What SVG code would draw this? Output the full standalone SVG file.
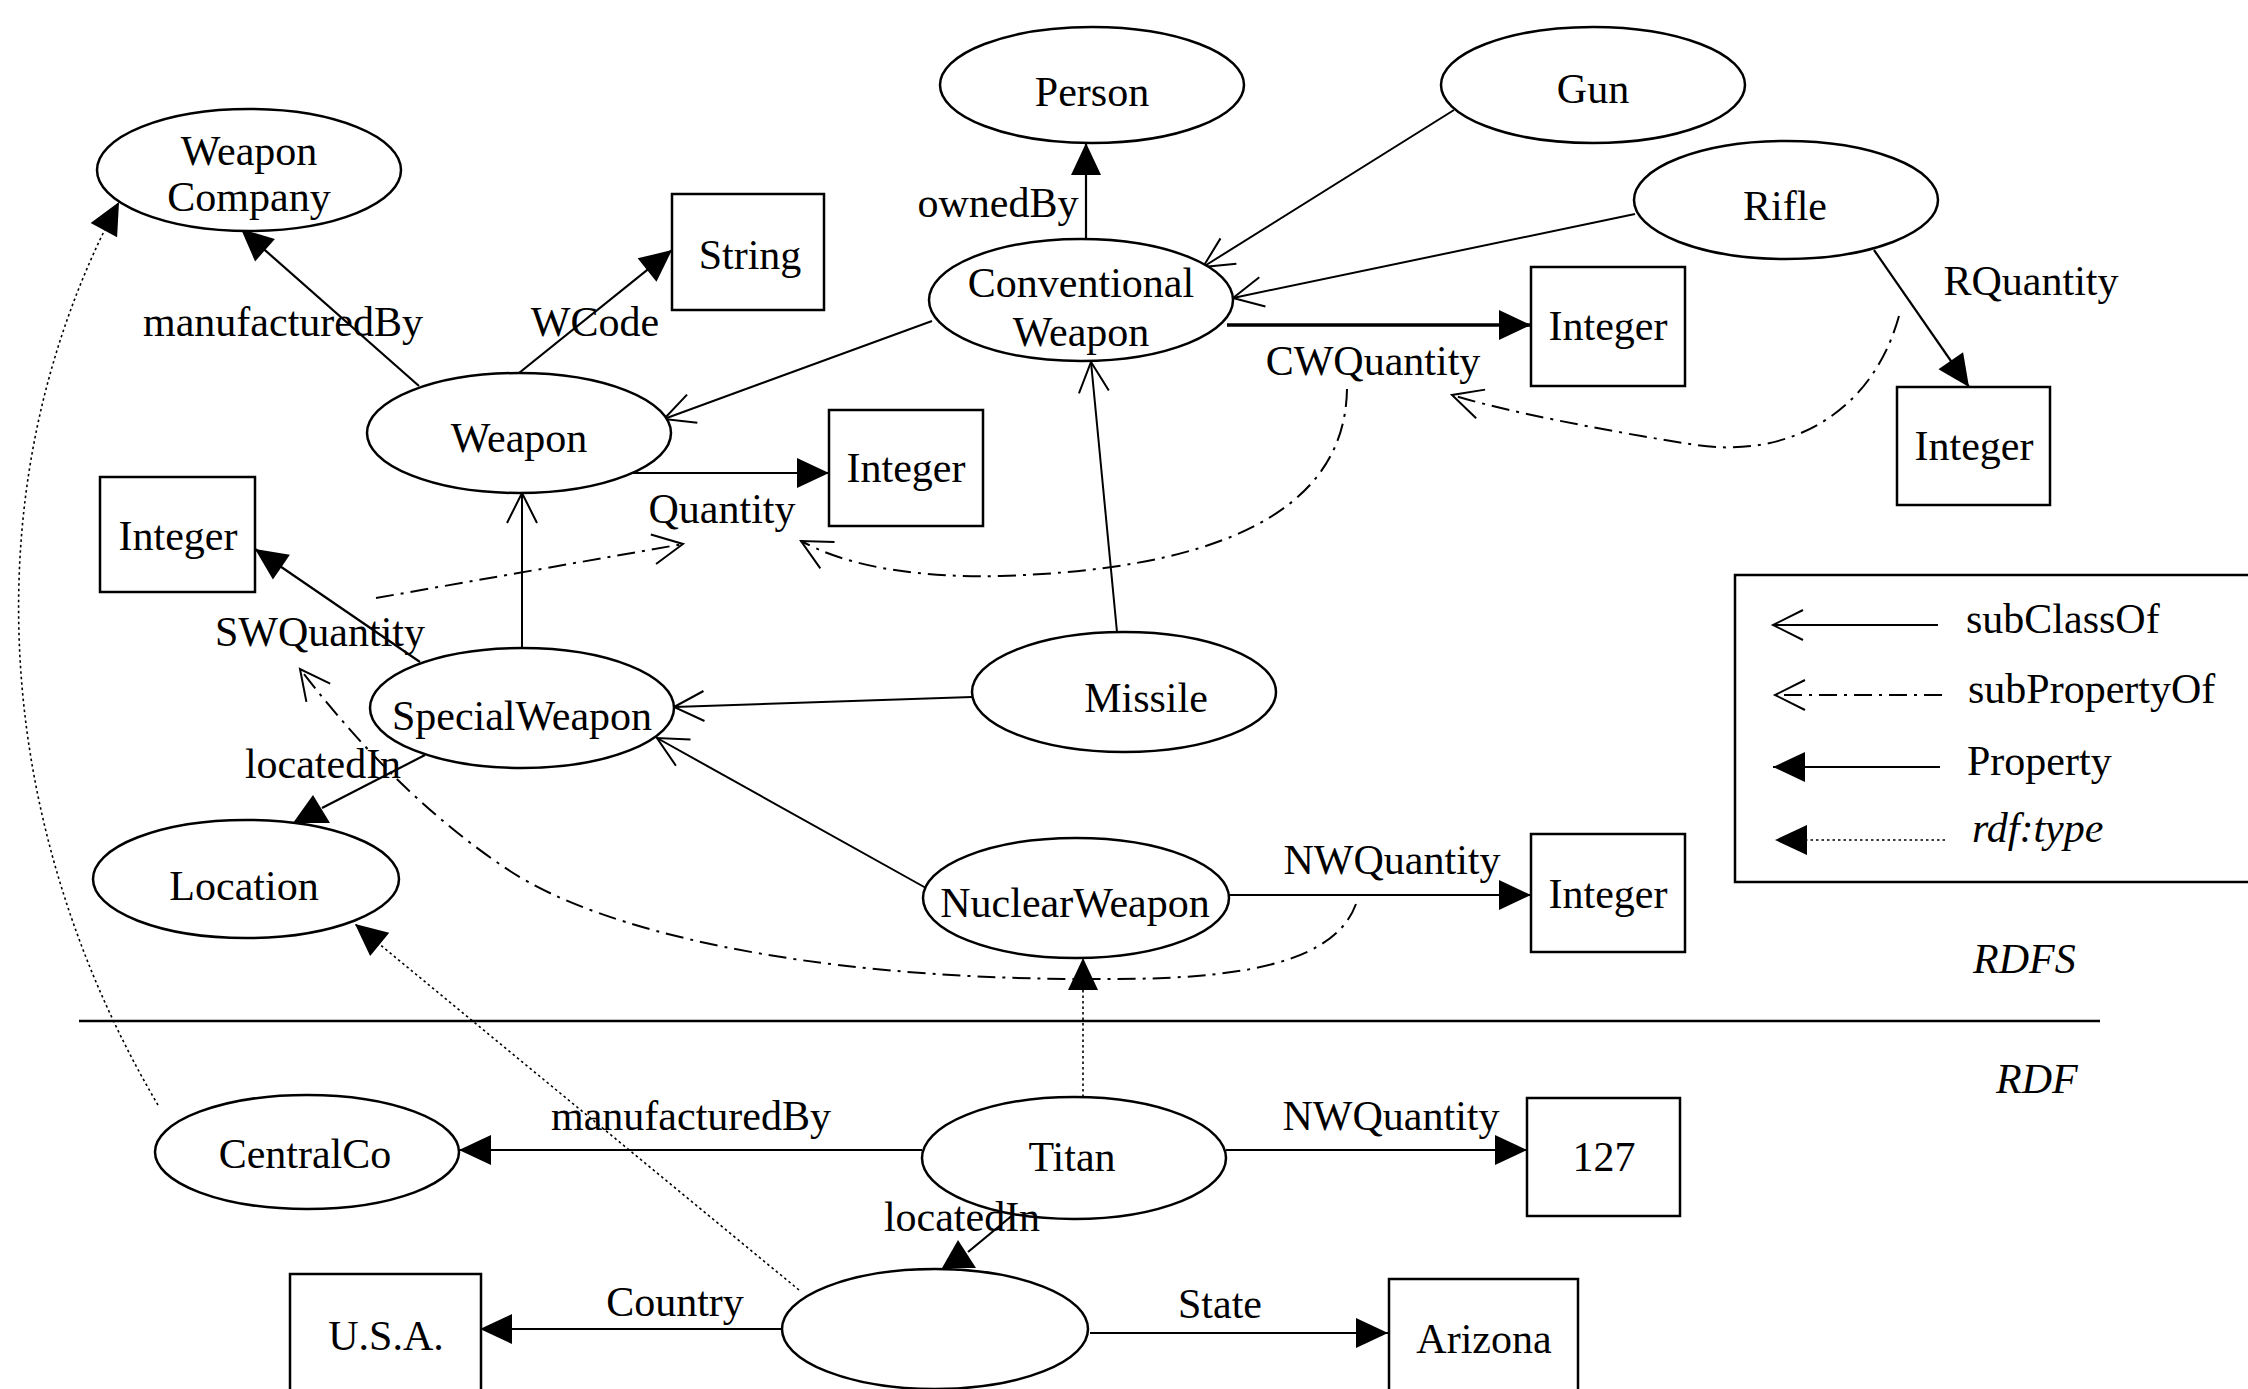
<svg xmlns="http://www.w3.org/2000/svg" width="2248" height="1389" viewBox="0 0 2248 1389">
<style>
text{font-family:"Liberation Serif","Times New Roman",serif;font-size:42px;fill:#000}
.c{text-anchor:middle}
.i{font-style:italic}
.n{fill:#fff;stroke:#000;stroke-width:2.5}
.p{fill:none;stroke:#000;stroke-width:2.2}
.pb{fill:none;stroke:#000;stroke-width:3.5}
.s{fill:none;stroke:#000;stroke-width:2}
.sp{fill:none;stroke:#000;stroke-width:2;stroke-dasharray:18,7,3,7}
.t{fill:none;stroke:#000;stroke-width:1.6;stroke-dasharray:2.5,3}
</style>
<defs>
<marker id="fa" markerUnits="userSpaceOnUse" markerWidth="34" markerHeight="32" viewBox="0 -16 34 32" refX="32" refY="0" orient="auto" overflow="visible">
<path d="M0,-15 L32,0 L0,15 Z" fill="#000"/>
</marker>
<marker id="oa" markerUnits="userSpaceOnUse" markerWidth="34" markerHeight="34" viewBox="0 -17 34 34" refX="32" refY="0" orient="auto" overflow="visible">
<path d="M2,-15 L32,0 L2,15" fill="none" stroke="#000" stroke-width="2"/>
</marker>
</defs>

<line x1="79" y1="1021" x2="2100" y2="1021" stroke="#000" stroke-width="2.5"/>

<g id="edges">
<line class="p" x1="419" y1="386" x2="241" y2="229" marker-end="url(#fa)"/>
<line class="p" x1="519" y1="373" x2="672" y2="250" marker-end="url(#fa)"/>
<line class="p" x1="631" y1="473" x2="829" y2="473" marker-end="url(#fa)"/>
<line class="p" x1="1086" y1="240" x2="1086" y2="143" marker-end="url(#fa)"/>
<line class="pb" x1="1227" y1="325" x2="1531" y2="325" marker-end="url(#fa)"/>
<line class="p" x1="1874" y1="250" x2="1969" y2="387" marker-end="url(#fa)"/>
<line class="p" x1="420" y1="662" x2="255" y2="549" marker-end="url(#fa)"/>
<line class="p" x1="1229" y1="895" x2="1531" y2="895" marker-end="url(#fa)"/>
<line class="p" x1="425" y1="755" x2="322" y2="808"/>
<polygon points="313,795 293,823 330,823" fill="#000"/>
<line class="p" x1="922" y1="1150" x2="459" y2="1150" marker-end="url(#fa)"/>
<line class="p" x1="1226" y1="1150" x2="1527" y2="1150" marker-end="url(#fa)"/>
<line class="p" x1="1014" y1="1214" x2="968" y2="1252"/>
<polygon points="958,1240 942,1268 976,1268" fill="#000"/>
<line class="p" x1="781" y1="1329" x2="480" y2="1329" marker-end="url(#fa)"/>
<line class="p" x1="1090" y1="1333" x2="1388" y2="1333" marker-end="url(#fa)"/>

<line class="s" x1="932" y1="321" x2="664" y2="419" marker-end="url(#oa)"/>
<line class="s" x1="522" y1="648" x2="522" y2="493" marker-end="url(#oa)"/>
<line class="s" x1="1454" y1="110" x2="1203" y2="267" marker-end="url(#oa)"/>
<line class="s" x1="1635" y1="214" x2="1233" y2="298" marker-end="url(#oa)"/>
<line class="s" x1="1117" y1="632" x2="1091" y2="362" marker-end="url(#oa)"/>
<line class="s" x1="972" y1="697" x2="674" y2="707" marker-end="url(#oa)"/>
<line class="s" x1="926" y1="888" x2="657" y2="738" marker-end="url(#oa)"/>

<line class="sp" x1="376" y1="598" x2="683" y2="544" marker-end="url(#oa)"/>
<path class="sp" d="M1347,389 C1345,520 1200,570 1000,576 C900,578 840,562 801,541" marker-end="url(#oa)"/>
<path class="sp" d="M1899,316 C1870,420 1780,460 1690,444 C1600,430 1500,410 1452,395" marker-end="url(#oa)"/>
<path class="sp" d="M1356,904 C1330,975 1200,980 1080,979 C800,978 600,930 510,871 C440,825 370,760 300,669" marker-end="url(#oa)"/>

<line class="t" x1="1083" y1="1097" x2="1083" y2="958" marker-end="url(#fa)"/>
<path class="t" d="M158,1105 C-10,820 -30,480 119,202" marker-end="url(#fa)"/>
<line class="t" x1="799" y1="1290" x2="355" y2="924" marker-end="url(#fa)"/>
</g>

<g id="n-weaponcompany"><ellipse class="n" cx="249" cy="170" rx="152" ry="61"/><text class="c" x="249" y="165">Weapon</text><text class="c" x="249" y="211">Company</text></g>
<g id="n-string"><rect class="n" x="672" y="194" width="152" height="116"/><text class="c" x="750" y="269">String</text></g>
<g id="n-person"><ellipse class="n" cx="1092" cy="85" rx="152" ry="58"/><text class="c" x="1092" y="106">Person</text></g>
<g id="n-gun"><ellipse class="n" cx="1593" cy="85" rx="152" ry="58"/><text class="c" x="1593" y="103">Gun</text></g>
<g id="n-rifle"><ellipse class="n" cx="1786" cy="200" rx="152" ry="59"/><text class="c" x="1785" y="220">Rifle</text></g>
<g id="n-conventionalweapon"><ellipse class="n" cx="1081" cy="300" rx="152" ry="61"/><text class="c" x="1081" y="297">Conventional</text><text class="c" x="1081" y="346">Weapon</text></g>
<g id="n-integer-cw"><rect class="n" x="1531" y="267" width="154" height="119"/><text class="c" x="1608" y="340">Integer</text></g>
<g id="n-integer-r"><rect class="n" x="1897" y="387" width="153" height="118"/><text class="c" x="1974" y="460">Integer</text></g>
<g id="n-weapon"><ellipse class="n" cx="519" cy="433" rx="152" ry="60"/><text class="c" x="519" y="452">Weapon</text></g>
<g id="n-integer-q"><rect class="n" x="829" y="410" width="154" height="116"/><text class="c" x="906" y="482">Integer</text></g>
<g id="n-integer-sw"><rect class="n" x="100" y="477" width="155" height="115"/><text class="c" x="178" y="550">Integer</text></g>
<g id="n-specialweapon"><ellipse class="n" cx="522" cy="708" rx="152" ry="60"/><text class="c" x="522" y="730">SpecialWeapon</text></g>
<g id="n-missile"><ellipse class="n" cx="1124" cy="692" rx="152" ry="60"/><text class="c" x="1146" y="712">Missile</text></g>
<g id="n-nuclearweapon"><ellipse class="n" cx="1076" cy="898" rx="153" ry="60"/><text class="c" x="1075" y="917">NuclearWeapon</text></g>
<g id="n-integer-nw"><rect class="n" x="1531" y="834" width="154" height="118"/><text class="c" x="1608" y="908">Integer</text></g>
<g id="n-location"><ellipse class="n" cx="246" cy="879" rx="153" ry="59"/><text class="c" x="244" y="900">Location</text></g>
<g id="n-centralco"><ellipse class="n" cx="307" cy="1152" rx="152" ry="57"/><text class="c" x="305" y="1168">CentralCo</text></g>
<g id="n-titan"><ellipse class="n" cx="1074" cy="1158" rx="152" ry="61"/><text class="c" x="1072" y="1171">Titan</text></g>
<g id="n-127"><rect class="n" x="1527" y="1098" width="153" height="118"/><text class="c" x="1604" y="1171">127</text></g>
<g id="n-blank"><ellipse class="n" cx="935" cy="1329" rx="153" ry="60"/></g>
<g id="n-usa"><rect class="n" x="290" y="1274" width="191" height="130"/><text class="c" x="386" y="1350">U.S.A.</text></g>
<g id="n-arizona"><rect class="n" x="1389" y="1279" width="189" height="125"/><text class="c" x="1484" y="1353">Arizona</text></g>

<g id="labels">
<text class="c" x="283" y="336">manufacturedBy</text>
<text class="c" x="595" y="336">WCode</text>
<text class="c" x="998" y="217">ownedBy</text>
<text class="c" x="2031" y="295">RQuantity</text>
<text class="c" x="1373" y="375">CWQuantity</text>
<text class="c" x="722" y="523">Quantity</text>
<text class="c" x="320" y="646">SWQuantity</text>
<text class="c" x="323" y="778">locatedIn</text>
<text class="c" x="1392" y="874">NWQuantity</text>
<text class="c" x="691" y="1130">manufacturedBy</text>
<text class="c" x="1391" y="1130">NWQuantity</text>
<text class="c" x="962" y="1231">locatedIn</text>
<text class="c" x="675" y="1316">Country</text>
<text class="c" x="1220" y="1318">State</text>
<text class="i" x="1973" y="973">RDFS</text>
<text class="i" x="1996" y="1093">RDF</text>
</g>

<g id="legend">
<rect x="1735" y="575" width="540" height="307" fill="none" stroke="#000" stroke-width="2.5"/>
<line class="s" x1="1938" y1="625" x2="1773" y2="625" marker-end="url(#oa)"/>
<line class="sp" x1="1942" y1="695" x2="1775" y2="695" marker-end="url(#oa)"/>
<line class="p" x1="1940" y1="767" x2="1773" y2="767" marker-end="url(#fa)"/>
<line class="t" x1="1945" y1="840" x2="1775" y2="840" marker-end="url(#fa)"/>
<text x="1966" y="633">subClassOf</text>
<text x="1968" y="703">subPropertyOf</text>
<text x="1967" y="775">Property</text>
<text class="i" x="1972" y="842">rdf:type</text>
</g>
</svg>
